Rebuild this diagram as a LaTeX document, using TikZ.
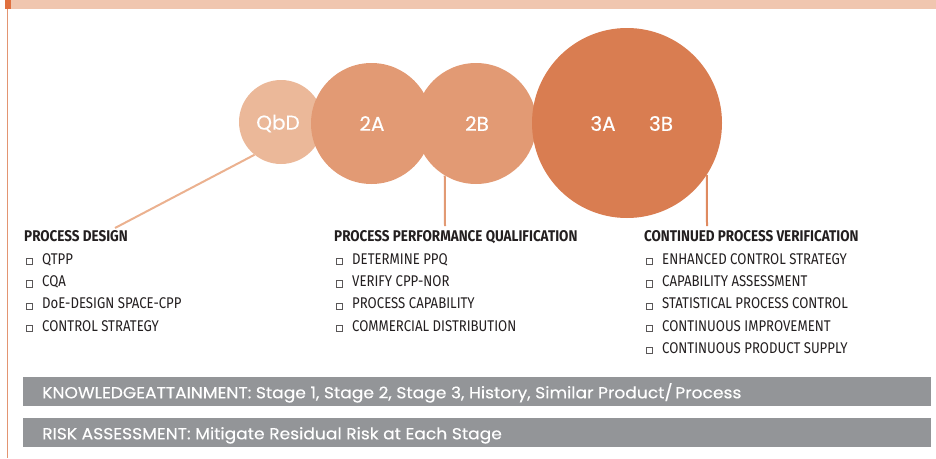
\documentclass[tikz,border=0pt]{standalone}
\usepackage{fontspec}
\setmainfont{Fira Sans}
\newfontfamily\condf[FakeStretch=0.851]{Fira Sans}
\newfontfamily\condbf[FakeStretch=0.869]{Fira Sans}
\newfontfamily\geof[FakeBold=0.4]{Poppins}
\newfontfamily\geobf[FakeStretch=1.07,FakeBold=0.3]{Poppins}
\definecolor{bandc}{HTML}{F0C6AF}
\definecolor{blockc}{HTML}{E0703F}
\definecolor{vlinec}{HTML}{E39572}
\definecolor{qbdc}{HTML}{EBB899}
\definecolor{twoc}{HTML}{E29A74}
\definecolor{bigc}{HTML}{D97D51}
\definecolor{qlinec}{HTML}{EBB18F}
\definecolor{tlinec}{HTML}{DF8A60}
\definecolor{bgray}{HTML}{939598}
\definecolor{ink}{HTML}{231F20}
\newcommand\sqbox{{\setlength\fboxsep{0pt}\setlength\fboxrule{0.6pt}\color{ink!75}\fbox{\rule{0pt}{5.6pt}\rule{5.6pt}{0pt}}}}
\begin{document}
\begin{tikzpicture}[x=1pt,y=-1pt,
  head/.style={anchor=base west, inner sep=0, font=\condbf\bfseries\fontsize{15.5}{17}\selectfont, text=ink},
  item/.style={anchor=base west, inner sep=0, font=\condf\fontsize{15.5}{17}\selectfont, text=ink},
  bub/.style={circle, inner sep=0, minimum size=#1},
  lbl/.style={font=\geof\fontsize{20}{22}\selectfont, text=white, inner sep=0},
  banner/.style={fill=bgray, inner sep=0, anchor=north west, minimum width=908pt, minimum height=29pt},
  btext/.style={anchor=base west, inner sep=0, font=\geobf\fontsize{16}{18}\selectfont, text=white},
  conn/.style={line width=2pt}
]
\useasboundingbox (0,0) rectangle (936,458);
% top band and left rule
\fill[bandc] (11,0) rectangle (936,9);
\fill[blockc] (5,0) rectangle (11,9);
\draw[vlinec, line width=1.5pt] (7.5,9) -- (7.5,458);
% bubbles
\node[bub=84pt, fill=qbdc] (qbd) at (281,122) {};
\node[bub=121pt, fill=twoc] (s2a) at (371.5,123.5) {};
\node[bub=121pt, fill=twoc] (s2b) at (476,123.5) {};
\node[bub=190pt, fill=bigc] (s3) at (627,123) {};
\node[lbl] (lqbd) at (278,123.5) {QbD};
\node[lbl] (l2a) at (372,123.5) {2A};
\node[lbl] (l2b) at (477,123.5) {2B};
\node[lbl] (l3a) at (603,123.5) {3A};
\node[lbl] (l3b) at (661,123.5) {3B};
% connectors
\coordinate (e1) at (115,228);
\coordinate (e2) at (445,226);
\coordinate (e3) at (707,226);
\draw[conn, qlinec] (qbd.231.8) -- (e1);
\draw[conn, twoc] (s2b.239.2) -- (e2);
\draw[conn, tlinec] (s3.327.4) -- (e3);
% column 1
\node[head] (h1) at (24,241.7) {PROCESS DESIGN};
\node[item] (a1) at (26,264.3) {\sqbox\hspace{9.2pt}QTPP};
\node[item] (a2) at (26,286.55) {\sqbox\hspace{9.2pt}CQA};
\node[item] (a3) at (26,308.8) {\sqbox\hspace{9.2pt}DoE-DESIGN SPACE-CPP};
\node[item] (a4) at (26,331.05) {\sqbox\hspace{9.2pt}CONTROL STRATEGY};
% column 2
\node[head] (h2) at (334,241.7) {PROCESS PERFORMANCE QUALIFICATION};
\node[item] (b1) at (336,264.3) {\sqbox\hspace{9.2pt}DETERMINE PPQ};
\node[item] (b2) at (336,286.55) {\sqbox\hspace{9.2pt}VERIFY CPP-NOR};
\node[item] (b3) at (336,308.8) {\sqbox\hspace{9.2pt}PROCESS CAPABILITY};
\node[item] (b4) at (336,331.05) {\sqbox\hspace{9.2pt}COMMERCIAL DISTRIBUTION};
% column 3
\node[head] (h3) at (644,241.7) {CONTINUED PROCESS VERIFICATION};
\node[item] (c1) at (646,264.3) {\sqbox\hspace{9.2pt}ENHANCED CONTROL STRATEGY};
\node[item] (c2) at (646,286.55) {\sqbox\hspace{9.2pt}CAPABILITY ASSESSMENT};
\node[item] (c3) at (646,308.8) {\sqbox\hspace{9.2pt}STATISTICAL PROCESS CONTROL};
\node[item] (c4) at (646,331.05) {\sqbox\hspace{9.2pt}CONTINUOUS IMPROVEMENT};
\node[item] (c5) at (646,353.3) {\sqbox\hspace{9.2pt}CONTINUOUS PRODUCT SUPPLY};
% banners
\node[banner] (k) at (23,377) {};
\node[banner] (r) at (23,418) {};
\node[btext] (kt) at (42,398.3) {KNOWLEDGEATTAINMENT: Stage 1, Stage 2, Stage 3, History, Similar Product/\,Process};
\node[btext] (rt) at (42,439.3) {RISK ASSESSMENT: Mitigate Residual Risk at Each Stage};
\end{tikzpicture}
\end{document}
